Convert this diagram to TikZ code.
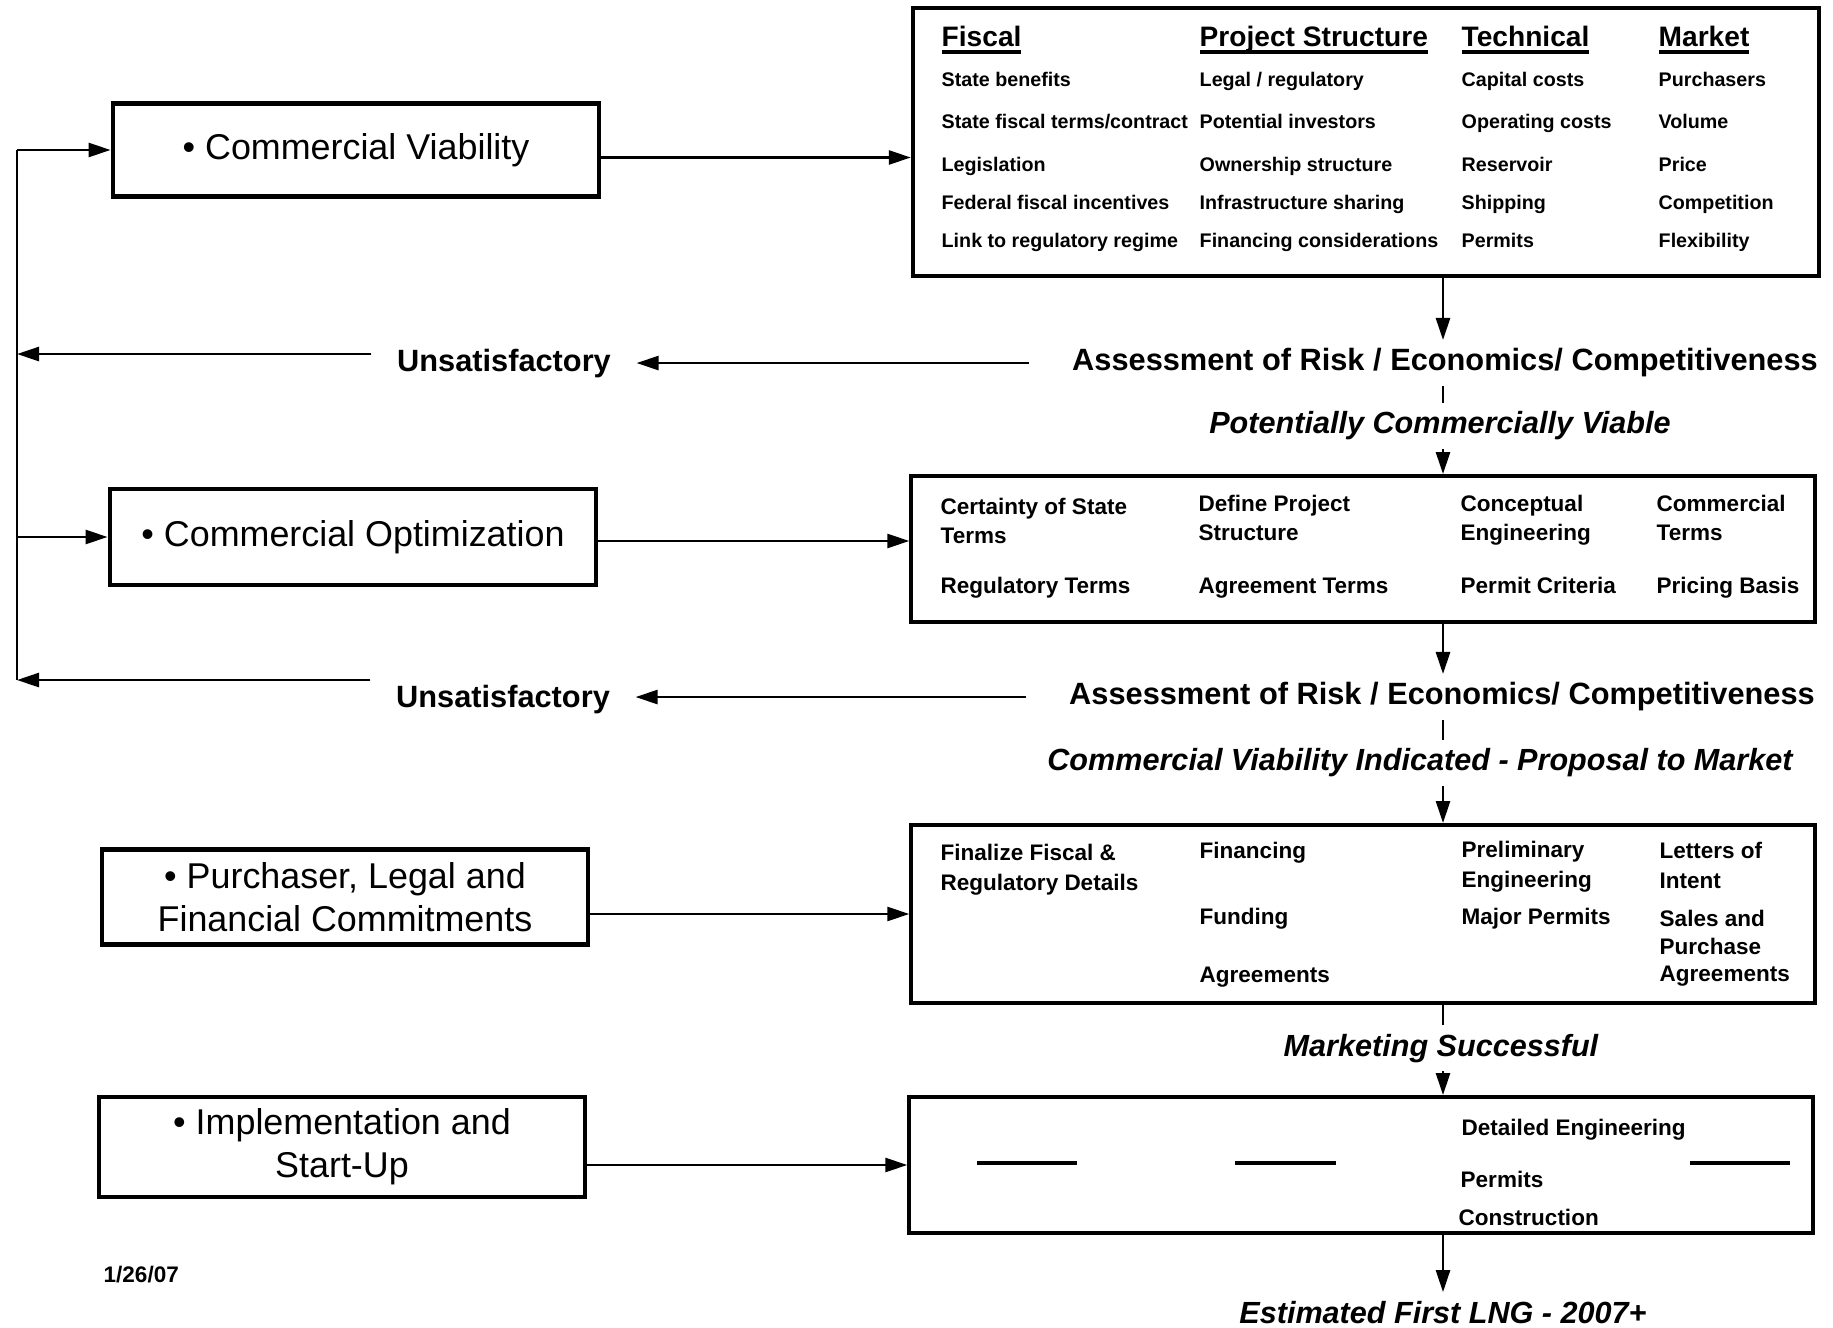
\documentclass[tikz,border=0pt]{standalone}
\usepackage{fontspec}
\setmainfont{Liberation Sans}
\usetikzlibrary{arrows.meta}

\newcommand\colul[1]{\setbox0\hbox{#1}\rlap{\rule[-0.07cm]{\wd0}{0.035cm}}\box0}

\tikzset{
  leftbox/.style={draw, line width=1.3pt, minimum width=4.86cm, minimum height=0.93cm, align=center, font=\fontsize{10.2}{12.2}\selectfont},
  rightbox/.style={draw, line width=1.1pt, minimum width=9.03cm},
  colhead/.style={anchor=base west, inner sep=0, font=\bfseries\fontsize{8}{9}\selectfont},
  smalltext/.style={anchor=base west, inner sep=0, font=\bfseries\fontsize{5.6}{6}\selectfont},
  itemtext/.style={anchor=base west, inner sep=0, font=\bfseries\fontsize{6.4}{7}\selectfont},
  assess/.style={anchor=base, inner xsep=0.42cm, inner ysep=0.08cm, font=\bfseries\fontsize{8.75}{10}\selectfont},
  resulttext/.style={anchor=base, inner ysep=0.08cm, font=\bfseries\itshape\fontsize{8.7}{10}\selectfont},
  unsat/.style={anchor=base, inner xsep=0.25cm, font=\bfseries\fontsize{8.75}{10}\selectfont},
  arr/.style={-{Triangle[length=0.22cm,width=0.14cm]}, line width=0.75pt},
  ln/.style={line width=0.75pt}
}

\begin{document}
\begin{tikzpicture}[x=0.01cm, y=-0.01cm]
        \useasboundingbox (0,0) rectangle (1833,1328);

        \node[leftbox] (viab) at (356,150) {• Commercial Viability};
        \node[leftbox, minimum height=0.96cm] (optim) at (353,537) {• Commercial Optimization};
        \node[leftbox, minimum height=0.95cm] (purch) at (345,897) {• Purchaser, Legal and\\Financial Commitments};
        \node[leftbox, minimum height=0.90cm] (impl) at (342,1147) {• Implementation and\\Start-Up};

        \node[rightbox, minimum width=9.06cm, minimum height=2.67cm] (factors) at (1366,142) {};
        \node[rightbox, minimum height=1.46cm] (terms) at (1363,549) {};
        \node[rightbox, minimum height=1.78cm] (commit) at (1363,914) {};
        \node[rightbox, minimum height=1.36cm] (startup) at (1361,1165) {};

        \node[colhead] (fiscal) at (941,47) {\colul{Fiscal}};
        \node[colhead] (struct) at (1199,47) {\colul{Project Structure}};
        \node[colhead] (tech) at (1461,47) {\colul{Technical}};
        \node[colhead] (market) at (1658,47) {\colul{Market}};

        \node[smalltext] (fis1) at (941,87) {State benefits};
        \node[smalltext] (fis2) at (941,129) {State fiscal terms/contract};
        \node[smalltext] (fis3) at (941,172) {Legislation};
        \node[smalltext] (fis4) at (941,210) {Federal fiscal incentives};
        \node[smalltext] (fis5) at (941,248) {Link to regulatory regime};
        \node[smalltext] (str1) at (1199,87) {Legal / regulatory};
        \node[smalltext] (str2) at (1199,129) {Potential investors};
        \node[smalltext] (str3) at (1199,172) {Ownership structure};
        \node[smalltext] (str4) at (1199,210) {Infrastructure sharing};
        \node[smalltext] (str5) at (1199,248) {Financing considerations};
        \node[smalltext] (tec1) at (1461,87) {Capital costs};
        \node[smalltext] (tec2) at (1461,129) {Operating costs};
        \node[smalltext] (tec3) at (1461,172) {Reservoir};
        \node[smalltext] (tec4) at (1461,210) {Shipping};
        \node[smalltext] (tec5) at (1461,248) {Permits};
        \node[smalltext] (mkt1) at (1658,87) {Purchasers};
        \node[smalltext] (mkt2) at (1658,129) {Volume};
        \node[smalltext] (mkt3) at (1658,172) {Price};
        \node[smalltext] (mkt4) at (1658,210) {Competition};
        \node[smalltext] (mkt5) at (1658,248) {Flexibility};

        \node[itemtext] (cert) at (940,515) {Certainty of State};
        \node[itemtext] (cert2) at (940,544) {Terms};
        \node[itemtext] (regt) at (940,594) {Regulatory Terms};
        \node[itemtext] (defn) at (1198,512) {Define Project};
        \node[itemtext] (defn2) at (1198,541) {Structure};
        \node[itemtext] (agrt) at (1198,594) {Agreement Terms};
        \node[itemtext] (conc) at (1460,512) {Conceptual};
        \node[itemtext] (conc2) at (1460,541) {Engineering};
        \node[itemtext] (perc) at (1460,594) {Permit Criteria};
        \node[itemtext] (comt) at (1656,512) {Commercial};
        \node[itemtext] (comt2) at (1656,541) {Terms};
        \node[itemtext] (pric) at (1656,594) {Pricing Basis};

        \node[itemtext] (finz) at (940,860) {Finalize Fiscal \&};
        \node[itemtext] (finz2) at (940,890) {Regulatory Details};
        \node[itemtext] (fincg) at (1199,858) {Financing};
        \node[itemtext] (fund) at (1199,925) {Funding};
        \node[itemtext] (agrs) at (1199,982) {Agreements};
        \node[itemtext] (prel) at (1461,857) {Preliminary};
        \node[itemtext] (prel2) at (1461,887) {Engineering};
        \node[itemtext] (majp) at (1461,924) {Major Permits};
        \node[itemtext] (lett) at (1659,859) {Letters of};
        \node[itemtext] (lett2) at (1659,889) {Intent};
        \node[itemtext] (sale) at (1659,926) {Sales and};
        \node[itemtext] (sale2) at (1659,955) {Purchase};
        \node[itemtext] (sale3) at (1659,981) {Agreements};

        \node[itemtext] (deng) at (1461,1135) {Detailed Engineering};
        \node[itemtext] (dperm) at (1460,1187) {Permits};
        \node[itemtext] (cons) at (1458,1225) {Construction};
        \draw[line width=0.9pt] (977,1163)--(1077,1163);
        \draw[line width=0.9pt] (1235,1163)--(1336,1163);
        \draw[line width=0.9pt] (1690,1163)--(1790,1163);

        \node[assess] (risk1) at (1445,371) {Assessment of Risk / Economics/ Competitiveness};
        \node[resulttext] (viable) at (1440,434) {Potentially Commercially Viable};
        \node[unsat] (unsat1) at (504,372) {Unsatisfactory};
        \node[assess] (risk2) at (1442,705) {Assessment of Risk / Economics/ Competitiveness};
        \node[resulttext] (indicated) at (1420,771) {Commercial Viability Indicated - Proposal to Market};
        \node[unsat] (unsat2) at (503,708) {Unsatisfactory};
        \node[resulttext] (marketing) at (1441,1056) {Marketing Successful};
        \node[resulttext] (firstlng) at (1443,1323) {Estimated First LNG - 2007+};
        \node[anchor=base west, inner sep=0, font=\bfseries\fontsize{6.4}{7}\selectfont] (date) at (103,1282) {1/26/07};

        \coordinate (col) at (1443,0);
        \coordinate (spine) at (17,150);
        \coordinate (spend) at (17,680);

        \draw[arr] ([yshift=-0.075cm]viab.east)--([yshift=-0.075cm]viab.east -| factors.west);
        \draw[arr] ([yshift=-0.04cm]optim.east)--([yshift=-0.04cm]optim.east -| terms.west);
        \draw[arr] (purch.east |- commit.west)--(commit.west);
        \draw[arr] (impl.east |- startup.west)--(startup.west);

        \draw[arr] (factors.south -| col)--(risk1.north -| col);
        \draw[ln] (risk1.south -| col)--(viable.north -| col);
        \draw[arr] (viable.south -| col)--(terms.north -| col);
        \draw[arr] (terms.south -| col)--(risk2.north -| col);
        \draw[ln] (risk2.south -| col)--(indicated.north -| col);
        \draw[arr] (indicated.south -| col)--(commit.north -| col);
        \draw[ln] (commit.south -| col)--(marketing.north -| col);
        \draw[arr] (marketing.south -| col)--(startup.north -| col);
        \draw[arr] (startup.south -| col)--(firstlng.north -| col);

        \draw[arr] (risk1.west)--(risk1.west -| unsat1.east);
        \draw[arr] ([yshift=0.1cm]unsat1.west)--([yshift=0.1cm]unsat1.west -| spine);
        \draw[arr] (risk2.west)--(risk2.west -| unsat2.east);
        \draw[arr] ([yshift=0.2cm]unsat2.west)--([yshift=0.2cm]unsat2.west -| spine);
        \draw[ln] (spine)--(spend);
        \draw[arr] (viab.west -| spine)--(viab.west);
        \draw[arr] (optim.west -| spine)--(optim.west);

    \end{tikzpicture}
\end{document}
